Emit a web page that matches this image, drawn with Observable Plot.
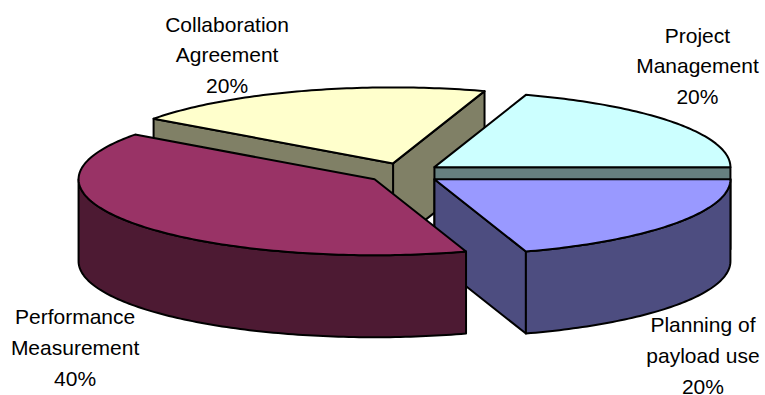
<!DOCTYPE html>
<html>
<head>
<meta charset="utf-8">
<style>
  html, body { margin: 0; padding: 0; background: #fff; }
  svg { display: block; }
</style>
<script src="https://cdn.jsdelivr.net/npm/d3@7"></script>
<script src="https://cdn.jsdelivr.net/npm/@observablehq/plot@0.6"></script>
</head>
<body>
<script>
// Shares of the project budget, counter-clockwise from the east point of the pie.
const categories = ["Project\nManagement", "Collaboration\nAgreement", "Performance\nMeasurement", "Planning of\npayload use"];
const shares = [20, 20, 40, 20];
const topColors = ["#CCFFFF", "#FFFFCC", "#993366", "#9999FF"];
const sideColors = ["#668080", "#808066", "#4D1A33", "#4D4D80"];

// Back-to-front painting order of the slices.
const paintOrder = [1, 0, 3, 2];

// Pie geometry, in SVG pixels.
const centerX = 404, centerY = 172.7;
const radiusX = 296, radiusY = 76, depth = 82;
const explodeX = 37, explodeY = 10.3;

// Label centres relative to each slice's apex, in pixels.
const labelShift = [[263, -103.5], [-166, -111], [-299.5, 166], [268.5, 174]];

const rad = (d) => (d * Math.PI) / 180;
const total = d3.sum(shares);
let running = 0;
const slices = shares.map((share, i) => {
  const start = (running / total) * 360;
  running += share;
  const end = (running / total) * 360;
  const mid = rad((start + end) / 2);
  return {
    i, start, end,
    ax: centerX + explodeX * Math.cos(mid),
    ay: centerY - explodeY * Math.sin(mid)
  };
});

const rim = (s, deg, drop = 0) => ({
  x: s.ax + radiusX * Math.cos(rad(deg)),
  y: s.ay - radiusY * Math.sin(rad(deg)) + drop
});
const arc = (s, from, to, drop = 0) =>
  d3.range(from, to, 1).concat(to).map((d) => rim(s, d, drop));

// Collects the closed outlines of every visible face, in painting order.
const faces = [];
const addFace = (id, fill, points) => {
  for (const p of points) faces.push({ x: p.x, y: p.y, id, fill });
};
for (const i of paintOrder) {
  const s = slices[i];
  const apex = { x: s.ax, y: s.ay };
  const apexLow = { x: s.ax, y: s.ay + depth };
  // A radial wall faces the viewer when its outward normal points downward.
  if (Math.sin(rad(s.start - 90)) < 0) {
    addFace(`${i}-a`, sideColors[i], [apex, rim(s, s.start), rim(s, s.start, depth), apexLow]);
  }
  if (Math.sin(rad(s.end + 90)) < 0) {
    addFace(`${i}-b`, sideColors[i], [apex, rim(s, s.end), rim(s, s.end, depth), apexLow]);
  }
  // Outer wall: only the part of the rim on the near half of the ellipse.
  const from = Math.max(s.start, 180), to = Math.min(s.end, 360);
  if (to > from) {
    addFace(`${i}-c`, sideColors[i], [...arc(s, from, to), ...arc(s, from, to, depth).reverse()]);
  }
  addFace(`${i}-t`, topColors[i], [apex, ...arc(s, s.start, s.end)]);
}

const labels = slices.map((s) => ({
  x: s.ax + labelShift[s.i][0],
  y: s.ay + labelShift[s.i][1],
  text: `${categories[s.i]}\n${shares[s.i]}%`
}));

const chart = Plot.plot({
  width: 765,
  height: 395,
  margin: 0,
  style: { background: "#fff" },
  x: { domain: [0, 765], range: [0, 765], axis: null },
  y: { domain: [0, 395], range: [0, 395], axis: null },
  color: { type: "identity" },
  marks: [
    Plot.line(faces, {
      x: "x", y: "y", z: "id", fill: "fill",
      stroke: "#000", strokeWidth: 2,
      curve: "linear-closed", strokeLinejoin: "round"
    }),
    Plot.text(labels, {
      x: "x", y: "y", text: "text",
      fontFamily: "Liberation Sans", fontSize: 21,
      lineHeight: 1.46, lineAnchor: "middle", fill: "#000"
    })
  ]
});
document.body.append(chart);
</script>
</body>
</html>
